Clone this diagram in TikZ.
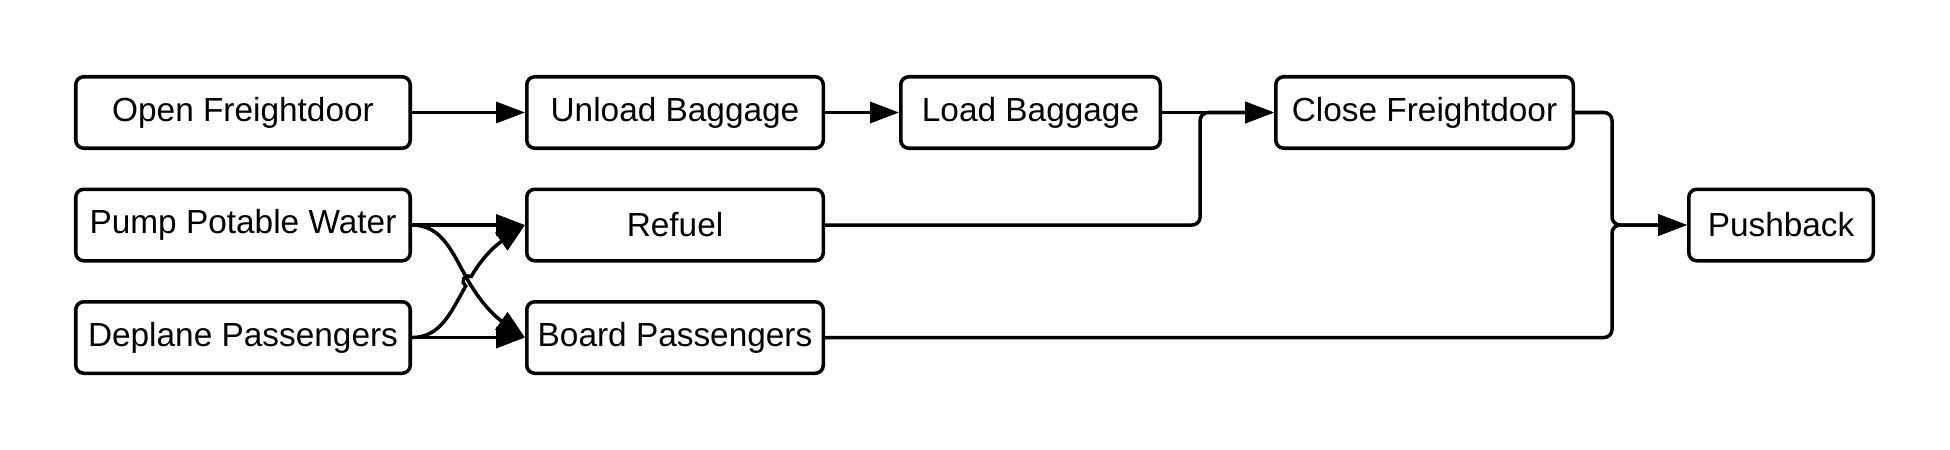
\documentclass[tikz,border=0pt]{standalone}
\usepackage{fontspec}
\setmainfont{Liberation Sans}
\usepackage{tikz}
\usetikzlibrary{arrows.meta, positioning, calc}

\begin{document}
\begin{tikzpicture}[
  >={Triangle[length=2.9mm, width=2.1mm]},
  tasknode/.style={draw, rectangle, rounded corners=0.8mm, line width=1pt, fill=white, minimum height=7.15mm, inner sep=0.5mm, font=\fontsize{9.5}{11}\selectfont, align=center},
  flow/.style={->, line width=1pt, black},
  elbowflow/.style={flow, rounded corners=0.8mm}
]

\useasboundingbox (0,0) rectangle (19.5,4.5);

% nodes
\node[tasknode, minimum width=33.45mm] (OpenFD) at (2.43, 3.375) {Open Freightdoor};
\node[tasknode, minimum width=29.65mm] (Unload)  [right=11.3mm of OpenFD] {Unload Baggage};
\node[tasknode, minimum width=25.95mm] (LoadBag) [right=7.4mm of Unload]  {Load Baggage};
\node[tasknode, minimum width=29.75mm] (CloseFD) [right=11.2mm of LoadBag] {Close Freightdoor};

\node[tasknode, minimum width=33.45mm] (Pump)    [below=3.75mm of OpenFD] {Pump Potable Water};
\node[tasknode, minimum width=33.45mm] (Deplane) [below=3.75mm of Pump]   {Deplane Passengers};
\node[tasknode, minimum width=29.65mm] (Refuel)  [below=3.75mm of Unload] {Refuel};
\node[tasknode, minimum width=29.65mm] (Board)   [below=3.75mm of Refuel] {Board Passengers};

\coordinate (pbRef) at (CloseFD.east |- Refuel.east);
\node[tasknode, minimum width=18.45mm] (Pushback) [right=11.2mm of pbRef] {Pushback};

% junction points
\coordinate (jClose) at ($(LoadBag.east)!0.34!(CloseFD.west)$);
\coordinate (jPush)  at ($(CloseFD.east)!0.33!(pbRef -| Pushback.west)$);
\coordinate (cross)  at ($(Pump.east)!0.5!(Board.west)$);
\coordinate (hopIn)  at ($(cross)+(240:0.55mm)$);

% flows
\draw[flow] (OpenFD) -- (Unload);
\draw[flow] (Unload) -- (LoadBag);
\draw[flow] (LoadBag) -- (CloseFD);
\draw[flow] (Pump) -- (Refuel);
\draw[flow] (Deplane) -- (Board);

% crossing curves (line jump on the lower one)
\draw[flow] (Pump.east) to[out=0, in=120] (cross) to[out=-60, in=145] (Board.west);
\draw[flow] (Deplane.east) to[out=0, in=240] (hopIn)
  arc[start angle=240, end angle=60, radius=0.55mm]
  to[out=60, in=215] (Refuel.west);

% joins
\draw[elbowflow] (Refuel.east) -| (jClose) -- (CloseFD.west);
\draw[elbowflow] (CloseFD.east) -| (jPush |- Pushback.west) -- (Pushback.west);
\draw[elbowflow] (Board.east) -| (jPush |- Pushback.west) -- (Pushback.west);

\end{tikzpicture}
\end{document}
